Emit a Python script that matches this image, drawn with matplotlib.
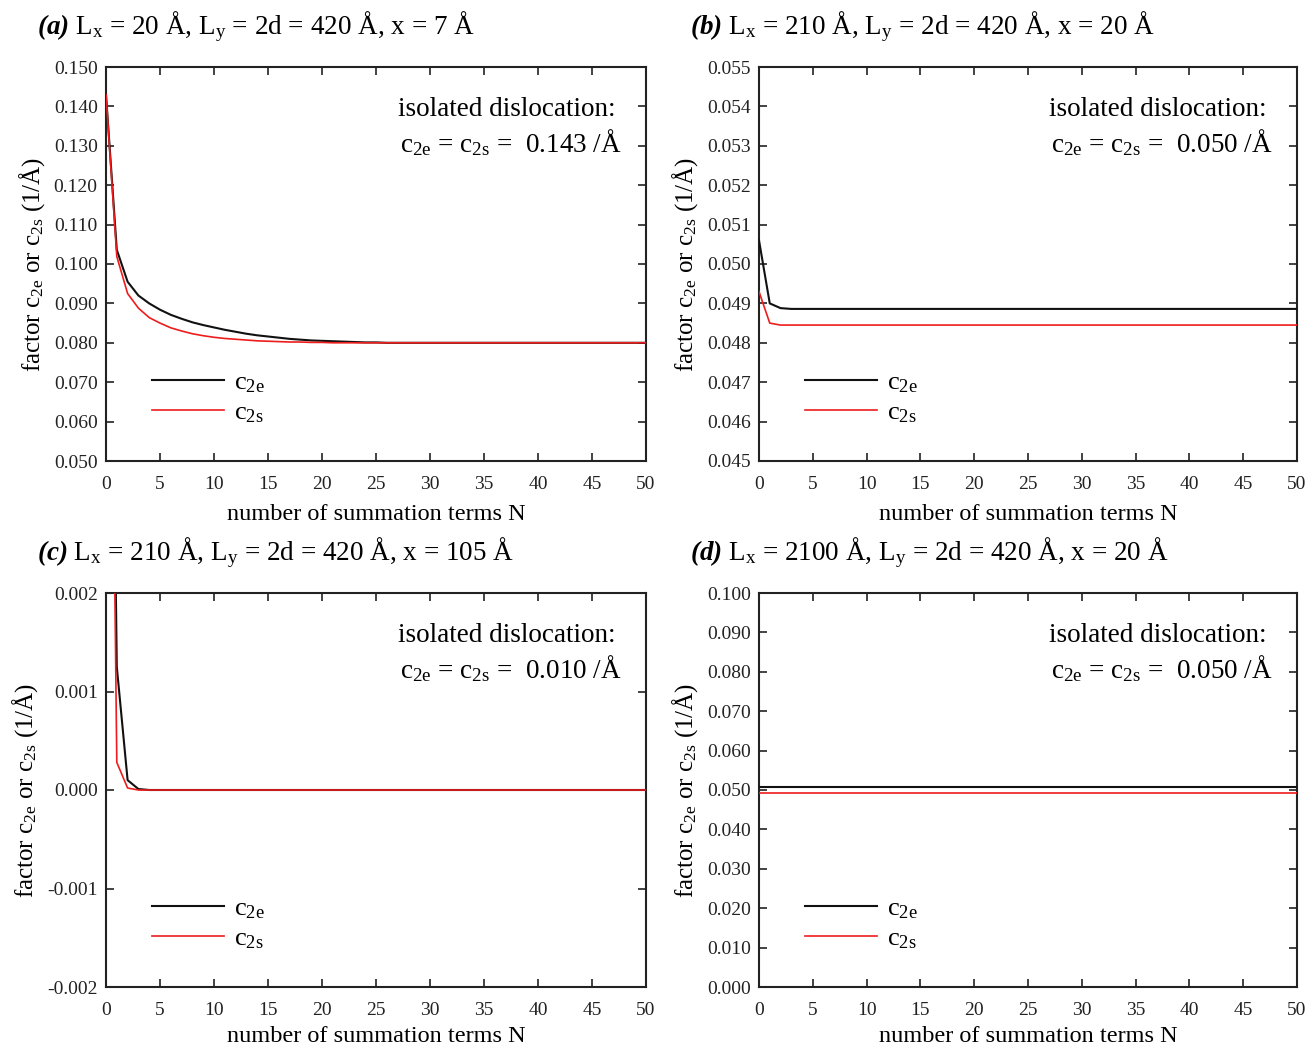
import numpy as np
import matplotlib
matplotlib.use("Agg")
import matplotlib.pyplot as plt
from matplotlib.ticker import MultipleLocator, FormatStrFormatter

plt.rcParams.update({
    "font.family": ["Liberation Serif", "DejaVu Serif"],
    "mathtext.fontset": "custom",
    "mathtext.rm": "Liberation Serif",
    "mathtext.it": "Liberation Serif:italic",
    "mathtext.bf": "Liberation Serif:bold",
    "axes.unicode_minus": False,
})
if "mathtext.bfit" in plt.rcParams:
    plt.rcParams["mathtext.bfit"] = "Liberation Serif:italic:bold"

# number of summation terms
N = np.arange(0, 51)

# (a) Lx = 20 A, x = 7 A
a_c2e = [0.1430, 0.1036, 0.0955, 0.0920, 0.0900, 0.0884, 0.0871, 0.0861, 0.0852, 0.0845,
         0.0839, 0.0833, 0.0828, 0.0823, 0.0819, 0.0816, 0.0813, 0.0810, 0.0808, 0.0806,
         0.0805, 0.0804, 0.0803, 0.0802, 0.0801, 0.0801, 0.0800, 0.0800, 0.0800, 0.0800,
         0.0800, 0.0800, 0.0800, 0.0800, 0.0800, 0.0800, 0.0800, 0.0800, 0.0800, 0.0800,
         0.0800, 0.0800, 0.0800, 0.0800, 0.0800, 0.0800, 0.0800, 0.0800, 0.0800, 0.0800,
         0.0800]
a_c2s = [0.1430, 0.1019, 0.0925, 0.0888, 0.0864, 0.0850, 0.0838, 0.0830, 0.0823, 0.0818,
         0.0814, 0.0811, 0.0809, 0.0807, 0.0805, 0.0804, 0.0803, 0.0802, 0.0802, 0.0801,
         0.0801, 0.0800, 0.0800, 0.0800, 0.0800, 0.0800, 0.0800, 0.0800, 0.0800, 0.0800,
         0.0800, 0.0800, 0.0800, 0.0800, 0.0800, 0.0800, 0.0800, 0.0800, 0.0800, 0.0800,
         0.0800, 0.0800, 0.0800, 0.0800, 0.0800, 0.0800, 0.0800, 0.0800, 0.0800, 0.0800,
         0.0800]

# (b) Lx = 210 A, x = 20 A
b_c2e = [0.05060, 0.04900, 0.04888, 0.04886, 0.04886, 0.04886, 0.04886, 0.04886, 0.04886, 0.04886,
         0.04886, 0.04886, 0.04886, 0.04886, 0.04886, 0.04886, 0.04886, 0.04886, 0.04886, 0.04886,
         0.04886, 0.04886, 0.04886, 0.04886, 0.04886, 0.04886, 0.04886, 0.04886, 0.04886, 0.04886,
         0.04886, 0.04886, 0.04886, 0.04886, 0.04886, 0.04886, 0.04886, 0.04886, 0.04886, 0.04886,
         0.04886, 0.04886, 0.04886, 0.04886, 0.04886, 0.04886, 0.04886, 0.04886, 0.04886, 0.04886,
         0.04886]
b_c2s = [0.04930, 0.04850, 0.04845, 0.04845, 0.04845, 0.04845, 0.04845, 0.04845, 0.04845, 0.04845,
         0.04845, 0.04845, 0.04845, 0.04845, 0.04845, 0.04845, 0.04845, 0.04845, 0.04845, 0.04845,
         0.04845, 0.04845, 0.04845, 0.04845, 0.04845, 0.04845, 0.04845, 0.04845, 0.04845, 0.04845,
         0.04845, 0.04845, 0.04845, 0.04845, 0.04845, 0.04845, 0.04845, 0.04845, 0.04845, 0.04845,
         0.04845, 0.04845, 0.04845, 0.04845, 0.04845, 0.04845, 0.04845, 0.04845, 0.04845, 0.04845,
         0.04845]

# (c) Lx = 210 A, x = 105 A
c_c2e = [0.01000, 0.00125, 0.00010, 0.00001, 0.0, 0.0, 0.0, 0.0, 0.0, 0.0,
         0.0, 0.0, 0.0, 0.0, 0.0, 0.0, 0.0, 0.0, 0.0, 0.0,
         0.0, 0.0, 0.0, 0.0, 0.0, 0.0, 0.0, 0.0, 0.0, 0.0,
         0.0, 0.0, 0.0, 0.0, 0.0, 0.0, 0.0, 0.0, 0.0, 0.0,
         0.0, 0.0, 0.0, 0.0, 0.0, 0.0, 0.0, 0.0, 0.0, 0.0,
         0.0]
c_c2s = [0.01000, 0.00028, 0.00002, 0.0, 0.0, 0.0, 0.0, 0.0, 0.0, 0.0,
         0.0, 0.0, 0.0, 0.0, 0.0, 0.0, 0.0, 0.0, 0.0, 0.0,
         0.0, 0.0, 0.0, 0.0, 0.0, 0.0, 0.0, 0.0, 0.0, 0.0,
         0.0, 0.0, 0.0, 0.0, 0.0, 0.0, 0.0, 0.0, 0.0, 0.0,
         0.0, 0.0, 0.0, 0.0, 0.0, 0.0, 0.0, 0.0, 0.0, 0.0,
         0.0]

# (d) Lx = 2100 A, x = 20 A
d_c2e = [0.0507, 0.0507, 0.0507, 0.0507, 0.0507, 0.0507, 0.0507, 0.0507, 0.0507, 0.0507,
         0.0507, 0.0507, 0.0507, 0.0507, 0.0507, 0.0507, 0.0507, 0.0507, 0.0507, 0.0507,
         0.0507, 0.0507, 0.0507, 0.0507, 0.0507, 0.0507, 0.0507, 0.0507, 0.0507, 0.0507,
         0.0507, 0.0507, 0.0507, 0.0507, 0.0507, 0.0507, 0.0507, 0.0507, 0.0507, 0.0507,
         0.0507, 0.0507, 0.0507, 0.0507, 0.0507, 0.0507, 0.0507, 0.0507, 0.0507, 0.0507,
         0.0507]
d_c2s = [0.0493, 0.0493, 0.0493, 0.0493, 0.0493, 0.0493, 0.0493, 0.0493, 0.0493, 0.0493,
         0.0493, 0.0493, 0.0493, 0.0493, 0.0493, 0.0493, 0.0493, 0.0493, 0.0493, 0.0493,
         0.0493, 0.0493, 0.0493, 0.0493, 0.0493, 0.0493, 0.0493, 0.0493, 0.0493, 0.0493,
         0.0493, 0.0493, 0.0493, 0.0493, 0.0493, 0.0493, 0.0493, 0.0493, 0.0493, 0.0493,
         0.0493, 0.0493, 0.0493, 0.0493, 0.0493, 0.0493, 0.0493, 0.0493, 0.0493, 0.0493,
         0.0493]

titles = [
    r"$\mathbfit{(a)}$ L$_{\rm x}$ = 20 Å, L$_{\rm y}$ = 2d = 420 Å, x = 7 Å",
    r"$\mathbfit{(b)}$ L$_{\rm x}$ = 210 Å, L$_{\rm y}$ = 2d = 420 Å, x = 20 Å",
    r"$\mathbfit{(c)}$ L$_{\rm x}$ = 210 Å, L$_{\rm y}$ = 2d = 420 Å, x = 105 Å",
    r"$\mathbfit{(d)}$ L$_{\rm x}$ = 2100 Å, L$_{\rm y}$ = 2d = 420 Å, x = 20 Å",
]
isolated = ["0.143", "0.050", "0.010", "0.050"]
ylims = [(0.050, 0.150), (0.045, 0.055), (-0.002, 0.002), (0.000, 0.100)]
ysteps = [0.010, 0.001, 0.001, 0.010]
series = [(a_c2e, a_c2s), (b_c2e, b_c2s), (c_c2e, c_c2s), (d_c2e, d_c2s)]

W, H = 1309, 1048
fig = plt.figure(figsize=(W / 100, H / 100), dpi=100)

# axes boxes in pixels: left, right, top, bottom
boxes = [(106, 646, 67, 461), (759, 1297, 67, 461),
         (106, 646, 593, 987), (759, 1297, 593, 987)]
title_x = [37, 690, 37, 690]
xlabel_pad = [8, 8, 5, 5]

black = "#111111"
red = "#ee1c1c"

for i in range(4):
    l, r, t, b = boxes[i]
    ax = fig.add_axes([l / W, 1 - b / H, (r - l) / W, (b - t) / H])
    c2e, c2s = series[i]
    ax.plot(N, c2e, color=black, lw=1.5, label=r"c$_{\rm 2e}$", zorder=3)
    ax.plot(N, c2s, color=red, lw=1.2, label=r"c$_{\rm 2s}$", zorder=4)

    ax.set_xlim(0, 50)
    ax.set_ylim(*ylims[i])
    ax.xaxis.set_major_locator(MultipleLocator(5))
    ax.yaxis.set_major_locator(MultipleLocator(ysteps[i]))
    ax.yaxis.set_major_formatter(FormatStrFormatter("%.3f"))
    ax.tick_params(direction="in", length=6, width=1.2, top=True, right=True,
                   labelsize=14, colors="#222222", labelcolor="#222222")
    ax.tick_params(axis="x", pad=11)
    ax.tick_params(axis="y", pad=6)
    for s in ax.spines.values():
        s.set_linewidth(1.5)
        s.set_color("#222222")

    ax.set_xlabel("number of summation terms N", fontsize=17.5, labelpad=xlabel_pad[i])
    ax.set_ylabel(r"factor c$_{\rm 2e}$ or c$_{\rm 2s}$ (1/Å)", fontsize=18, labelpad=5)

    ax.text(0.943, 0.891, "isolated dislocation:", transform=ax.transAxes,
            ha="right", va="center", fontsize=19.5)
    ax.text(0.955, 0.807, r"c$_{\rm 2e}$ = c$_{\rm 2s}$ =  " + isolated[i] + " /Å",
            transform=ax.transAxes, ha="right", va="center", fontsize=19.5)

    ax.legend(loc="center left", bbox_to_anchor=(0.085, 0.16), frameon=False,
              fontsize=19, handlelength=2.75, handletextpad=0.38,
              labelspacing=0.24, borderpad=0, borderaxespad=0)

    fig.text(title_x[i] / W, 1 - (t - 40) / H, titles[i], fontsize=19.5,
             ha="left", va="center")

fig.savefig("out.png", dpi=100)
